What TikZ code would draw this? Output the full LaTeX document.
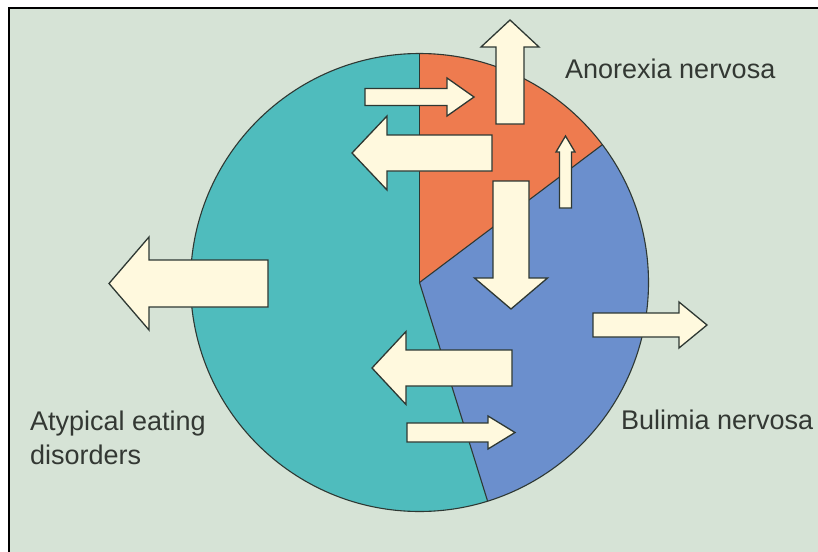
\documentclass[tikz,border=0pt]{standalone}
\usepackage{fontspec}
\setmainfont{Liberation Sans}

\definecolor{backg}{HTML}{D6E3D6}
\definecolor{anorexiacol}{HTML}{EE7B4F}
\definecolor{bulimiacol}{HTML}{6B8FCD}
\definecolor{atypicalcol}{HTML}{4FBCBD}
\definecolor{cream}{HTML}{FFF9DE}
\definecolor{outline}{HTML}{2E3833}
\definecolor{labeltext}{HTML}{333833}

\tikzset{
  pieline/.style={draw=outline,line width=1.1pt},
  blockarrow/.style={fill=cream,draw=outline,line width=1.3pt,line join=miter},
  label/.style={text=labeltext,inner sep=0pt,font=\fontsize{27}{34}\selectfont}
}

% horizontal block arrow: tail x, head base x, tip x, mid y, half shaft, half head
\newcommand{\harrow}[6]{%
  \draw[blockarrow] (#1,#4-#5) -- (#2,#4-#5) -- (#2,#4-#6) -- (#3,#4)
    -- (#2,#4+#6) -- (#2,#4+#5) -- (#1,#4+#5) -- cycle;}
% vertical block arrow: mid x, tail y, head base y, tip y, half shaft, half head
\newcommand{\varrow}[6]{%
  \draw[blockarrow] (#1-#5,#2) -- (#1-#5,#3) -- (#1-#6,#3) -- (#1,#4)
    -- (#1+#6,#3) -- (#1+#5,#3) -- (#1+#5,#2) -- cycle;}

\begin{document}
\begin{tikzpicture}[x=1pt,y=-1pt]
        \useasboundingbox (0,0) rectangle (818,551);
        \clip (0,0) rectangle (818,551);
        \fill[white] (0,0) rectangle (818,551);
        \draw[line width=2.5pt,fill=backg] (9,8) rectangle (830,560);

        % the pie
        \coordinate (c) at (419.5,282.5);
        \fill[anorexiacol] (c) -- ++(-90:229) arc[start angle=-90,end angle=-37,radius=229] -- cycle;
        \fill[bulimiacol] (c) -- ++(-37:229) arc[start angle=-37,end angle=72.7,radius=229] -- cycle;
        \fill[atypicalcol] (c) -- ++(72.7:229) arc[start angle=72.7,end angle=270,radius=229] -- cycle;
        \draw[pieline] (c) circle[radius=229];
        \draw[pieline] (c) -- ++(-90:229);
        \draw[pieline] (c) -- ++(-37:229);
        \draw[pieline] (c) -- ++(72.7:229);

        % the arrows
        \varrow{510}{124}{47}{20}{14}{29}
        \harrow{365}{447}{474}{97}{8.5}{19}
        \harrow{492}{387}{352}{153}{18}{37}
        \varrow{565.5}{208}{152}{136}{6}{9.5}
        \varrow{511}{181}{278}{309}{18}{36.5}
        \harrow{268}{149}{109}{283.5}{23.5}{46.5}
        \harrow{593}{679}{707}{325}{12}{23}
        \harrow{512}{406}{372}{368}{18}{36.5}
        \harrow{407}{488}{515}{432.5}{9.5}{16.5}

        \node[label,anchor=base west] (anorexia) at (565,78) {Anorexia nervosa};
        \node[label,anchor=base west] (bulimia) at (621,429) {Bulimia nervosa};
        \node[label,anchor=north west,align=left] (atypical) at (30,411) {Atypical eating\\disorders};
\end{tikzpicture}
\end{document}
